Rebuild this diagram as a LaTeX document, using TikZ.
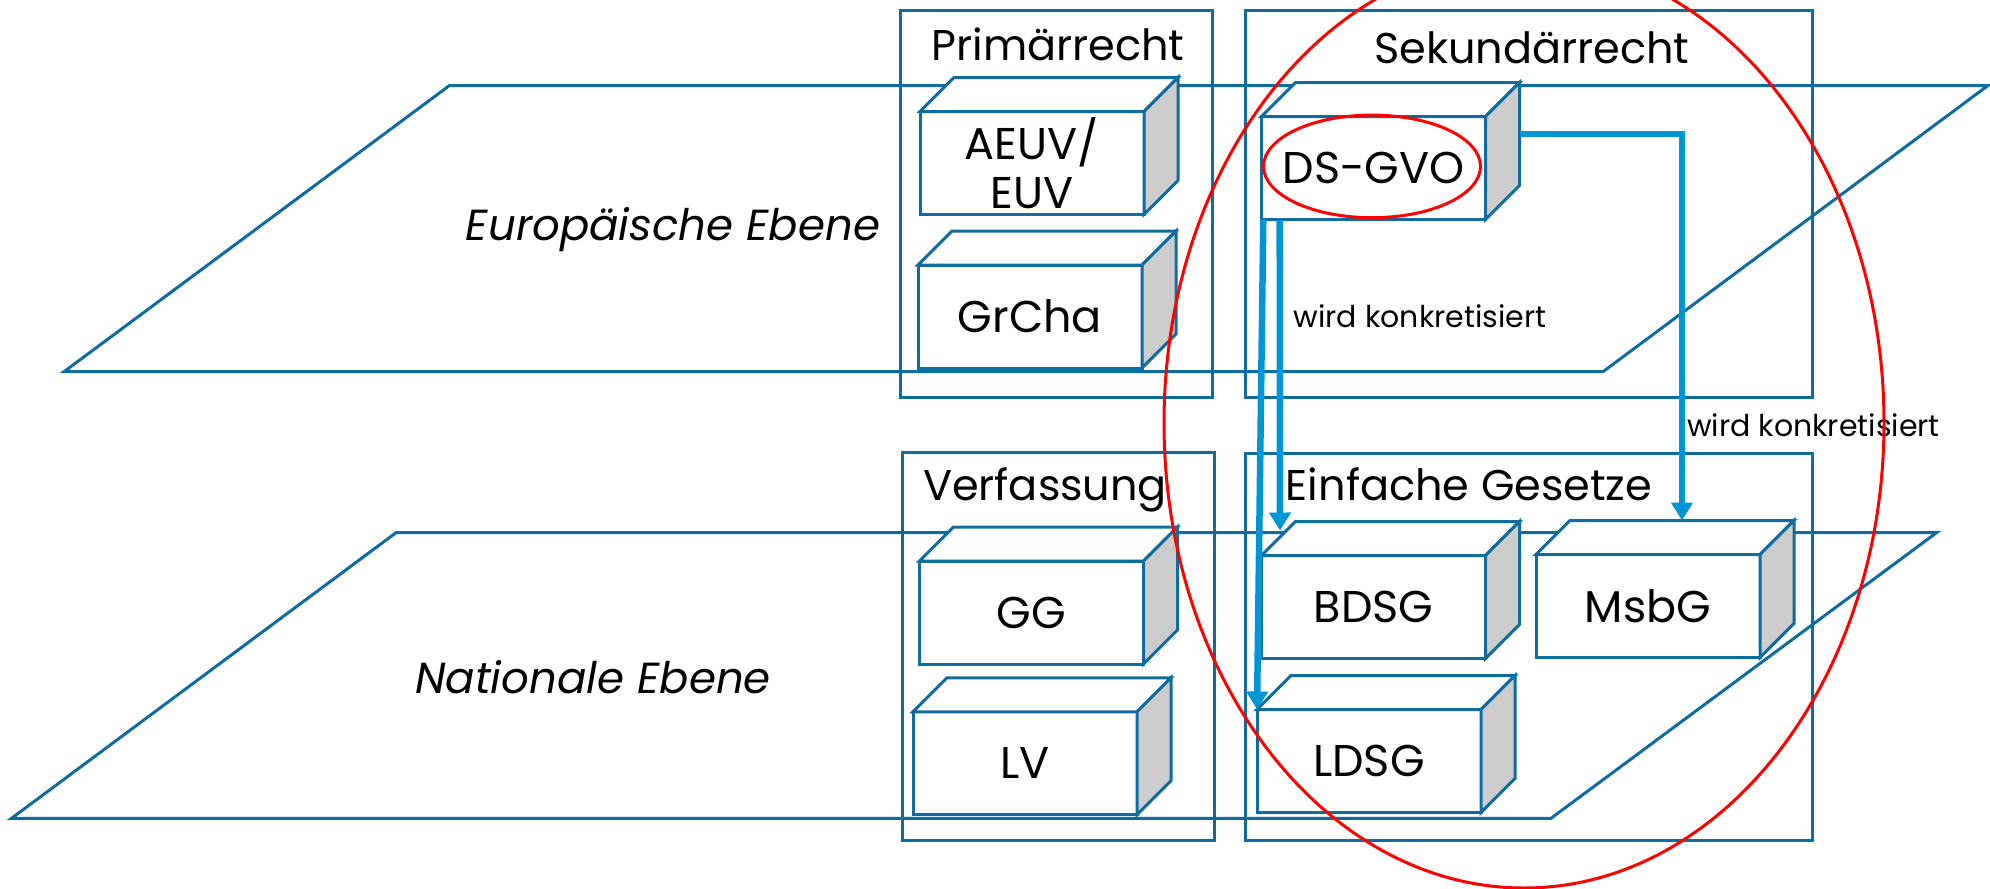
\documentclass[tikz,border=0pt]{standalone}
\usepackage{fontspec}
\setmainfont{Poppins}
\usetikzlibrary{calc,arrows.meta}
\definecolor{frameblue}{RGB}{16,108,158}
\definecolor{arrowblue}{RGB}{0,150,214}
\definecolor{sidegray}{RGB}{204,204,204}
\newcommand\bigfont{\fontsize{43}{48}\selectfont}
\newcommand\cubefont{\fontsize{44.5}{49}\selectfont}
\newcommand\smallfont{\fontsize{30}{34}\selectfont}
\newcommand\levelfont{\fontsize{43.5}{48}\selectfont\itshape}
\tikzset{
  bluepath/.style={draw=frameblue, line width=3pt, line join=miter},
  framebox/.style={bluepath, inner sep=0pt, outer sep=0pt, anchor=north west},
  cubefront/.style={bluepath, fill=white, inner sep=0pt, outer sep=0pt,
    minimum width=224pt, minimum height=103pt, align=center, font=\cubefont},
  topface/.style={bluepath, fill=white},
  sideface/.style={bluepath, fill=sidegray},
  conn/.style={draw=arrowblue, line width=6.5pt, -{Triangle[length=18pt,width=21pt]}},
  ring/.style={draw=red, line width=3pt},
  title/.style={font=\bigfont, anchor=base, inner sep=0pt},
  note/.style={font=\smallfont, inner sep=0pt},
  level/.style={font=\levelfont, inner sep=0pt}
}
\newcommand\mkcube[4]{%
  \node[cubefront] (#1) at (#2,#3) {#4};
  \draw[topface] (#1.north west) -- ($(#1.north west)+(34,-34)$) -- ($(#1.north east)+(34,-34)$) -- (#1.north east) -- cycle;
  \draw[sideface] (#1.north east) -- ($(#1.north east)+(34,-34)$) -- ($(#1.south east)+(34,-34)$) -- (#1.south east) -- cycle;
}
\begin{document}
\begin{tikzpicture}[x=1pt,y=-1pt]
\useasboundingbox (0,0) rectangle (1990,889);
\clip (0,0) rectangle (1990,889);
\fill[white] (0,0) rectangle (1990,889);

% planes
\draw[bluepath] (449.5,85.5) coordinate (eu1) -- (1988,85.5) coordinate (eu2) -- (1603,371.7) coordinate (eu3) -- (64,371.7) coordinate (eu4) -- cycle;
\draw[bluepath] (396,532.7) coordinate (na1) -- (1936.5,532.7) coordinate (na2) -- (1551,818.3) coordinate (na3) -- (11.5,818.3) coordinate (na4) -- cycle;
\node[level] (eulabel) at (673,230) {Europäische Ebene};
\node[level] (nalabel) at (593,677) {Nationale Ebene};

% frames
\node[framebox, minimum width=312pt, minimum height=387pt] (primf) at (900,10) {};
\node[framebox, minimum width=567.6pt, minimum height=387pt] (sekf) at (1245,10) {};
\node[framebox, minimum width=312pt, minimum height=388pt] (verff) at (902,452.7) {};
\node[framebox, minimum width=567.6pt, minimum height=387.4pt] (einff) at (1245,453.3) {};
\node[title] (primt) at (1058,60) {Primärrecht};
\node[title] (sekt) at (1532,63) {Sekundärrecht};
\node[title] (verft) at (1045,500) {Verfassung};
\node[title] (einft) at (1469,500) {Einfache Gesetze};

% cubes
\mkcube{aeuv}{1032}{163}{AEUV/\\EUV}
\mkcube{grcha}{1030}{316.5}{GrCha}
\mkcube{dsgvo}{1373.5}{168}{DS-GVO}
\mkcube{gg}{1031.5}{612.5}{GG}
\mkcube{lv}{1025}{763.3}{LV}
\mkcube{bdsg}{1373.5}{607}{BDSG}
\mkcube{msbg}{1648}{606}{MsbG}
\mkcube{ldsg}{1369}{761}{LDSG}

% connectors
\draw[conn] ($(dsgvo.north east)+(34,17.5)$) -| ($(msbg.north)+(34,-34)$);
\draw[conn] ($(dsgvo.south west)+(18.2,0)$) -- ($(bdsg.north west)+(18.5,-25)$);
\draw[conn] ($(dsgvo.south west)+(1.8,0)$) -- (ldsg.north west);
\node[note] (n1) at (1420,316) {wird konkretisiert};
\node[note] (n2) at (1813.5,425) {wird konkretisiert};

% red rings
\draw[ring] (dsgvo.center) ++(-1.5,-1.6) ellipse [x radius=108.5pt, y radius=51.3pt];
\draw[ring] (1524,423) ellipse [x radius=360pt, y radius=465pt];
\end{tikzpicture}
\end{document}
